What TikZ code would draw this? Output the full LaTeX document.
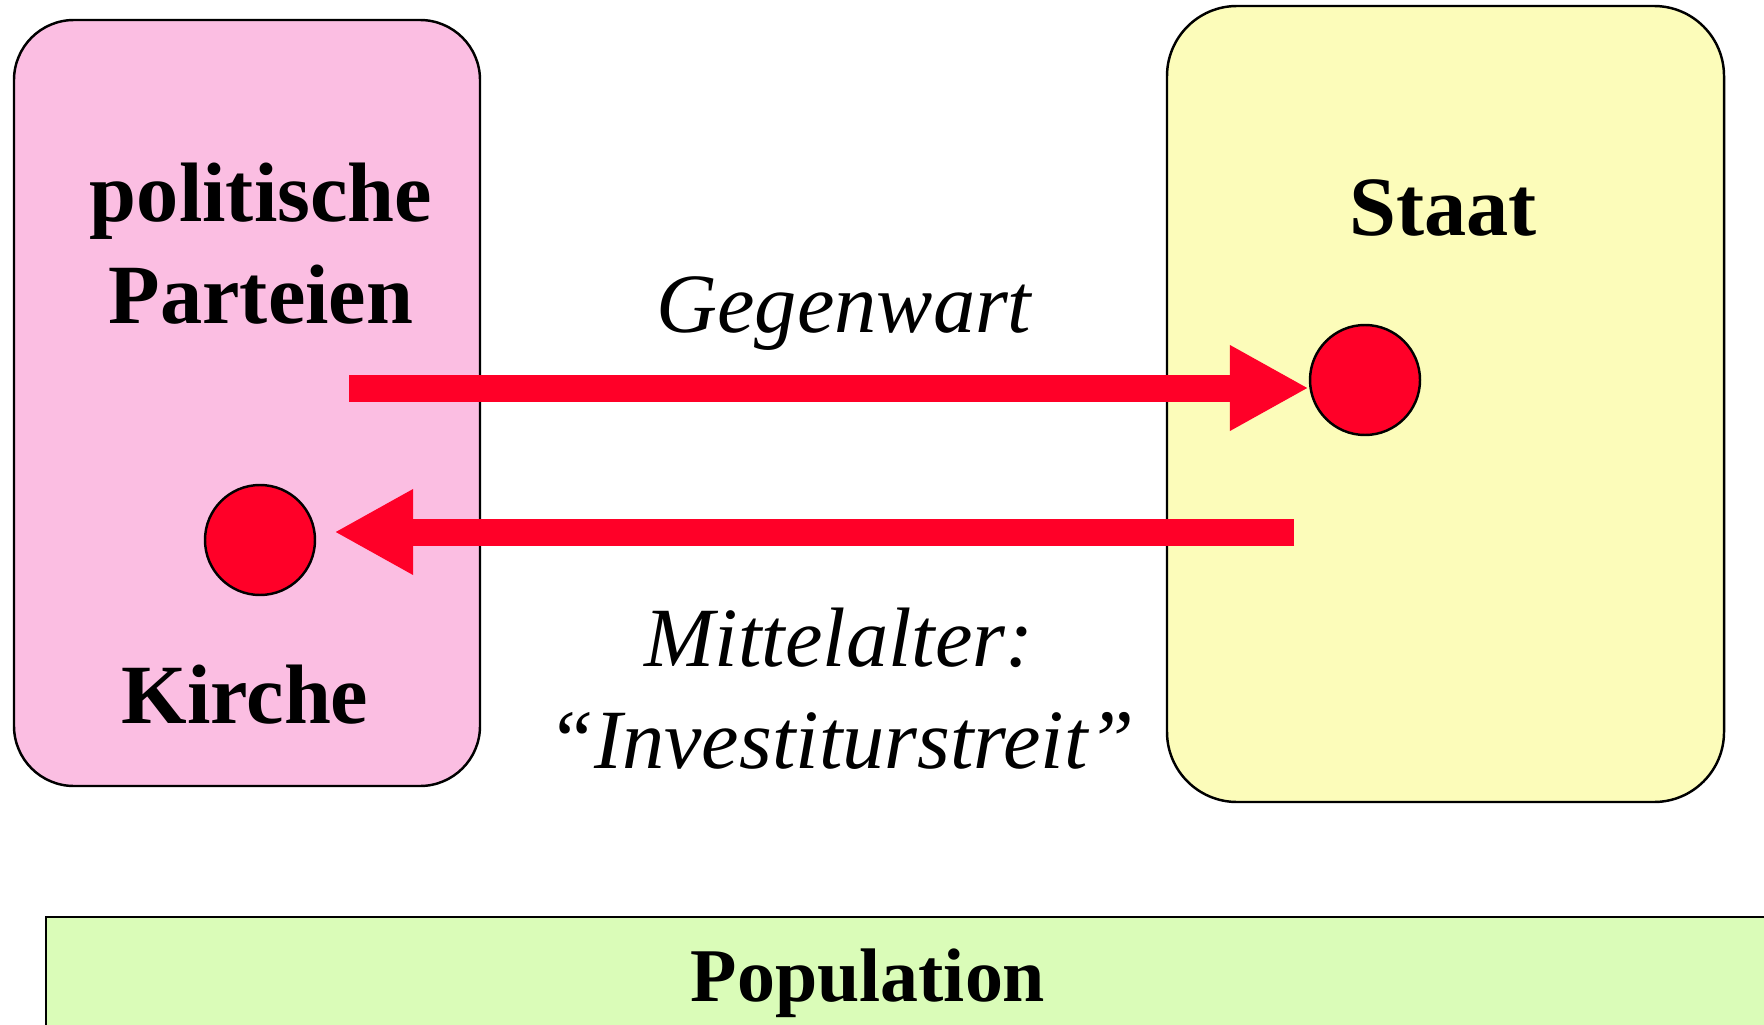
\documentclass[tikz,border=0pt]{standalone}
\usepackage{fontspec}
\setmainfont{Liberation Serif}
\usetikzlibrary{arrows.meta}
\definecolor{pinkbox}{RGB}{251,190,226}
\definecolor{yellowbox}{RGB}{252,252,186}
\definecolor{greenbox}{RGB}{218,252,184}
\definecolor{redarrow}{RGB}{255,0,40}
\begin{document}
\begin{tikzpicture}
[box/.style={draw=black, line width=0.7pt, inner sep=0pt, outer sep=0pt},
 bold/.style={font=\fontsize{24}{29}\selectfont\bfseries, inner sep=0pt, anchor=base},
 ital/.style={font=\fontsize{24}{29}\selectfont\itshape, inner sep=0pt, anchor=base},
 dot/.style={circle, draw=black, line width=0.7pt, fill=redarrow, minimum size=1.1cm, inner sep=0pt},
 bigarrow/.style={draw=redarrow, line width=0.27cm, -{Triangle[width=0.8cm, length=0.79cm]}}]
\useasboundingbox (0,0) rectangle (17.64,10.24);
\clip (0,0) rectangle (17.64,10.24);

% boxes
\node (PBox) at (2.47,6.21) [box, fill=pinkbox, rounded corners=0.6cm,
  minimum width=4.66cm, minimum height=7.66cm] {};
\node (SBox) at (14.455,6.20) [box, fill=yellowbox, rounded corners=0.7cm,
  minimum width=5.57cm, minimum height=7.96cm] {};
\node (PopBox) at (9.23,0.285) [box, fill=greenbox,
  minimum width=17.54cm, minimum height=1.57cm] {};

% labels
\node (PP) at (2.61,7.01) [bold, align=center] {politische\\Parteien};
\node (St) at (14.43,7.88) [bold] {Staat};
\node (Ki) at (2.45,3.01) [bold] {Kirche};
\node (Pop) at (8.68,0.23) [bold, font=\fontsize{21.6}{26}\selectfont\bfseries] {Population};
\node (Gw) at (8.44,6.92) [ital] {Gegenwart};
\node (MA) at (8.39,3.58) [ital] {Mittelalter:};
\node (IS) at (8.41,2.56) [ital] {“Investiturstreit”};

% dots and arrows
\node (Sdot) at (13.65,6.44) [dot] {};
\node (Kdot) at (2.60,4.84) [dot] {};
\coordinate (tailU) at (3.49,6.36);
\coordinate (tailL) at (12.94,4.92);
\draw [bigarrow] (tailU) -- (tailU -| Sdot.west);
\draw [bigarrow, shorten >=0.18cm] (tailL) -- (tailL -| Kdot.east);
\end{tikzpicture}
\end{document}
